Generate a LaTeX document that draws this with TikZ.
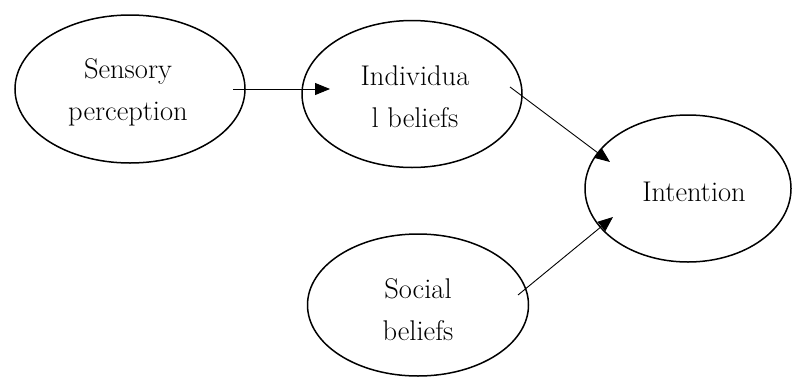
\documentclass[tikz,border=0pt]{standalone}
\usetikzlibrary{shapes.geometric,arrows.meta,calc}
\begin{document}
\begin{tikzpicture}[x=1pt,y=-1pt,
  oval/.style={draw=black,line width=1.5pt,ellipse,inner sep=0pt,align=center,
    font=\fontsize{28.5}{42}\selectfont},
  link/.style={draw=black,line width=0.9pt,-{Triangle[length=15pt,width=12pt]}}]
\useasboundingbox (0,0) rectangle (792,378);
\node[oval,minimum width=230pt,minimum height=148pt] (sens) at (130,89) {};
\node[oval,minimum width=220pt,minimum height=147pt] (indiv) at (412,94) {};
\node[oval,minimum width=206pt,minimum height=147pt] (intent) at (688,188.5) {};
\node[oval,minimum width=221pt,minimum height=142pt] (soc) at (418,305) {};
\node[font=\fontsize{28.5}{42}\selectfont,align=center,inner sep=0pt] (senst) at ($(sens.center)+(-2,3)$) {Sensory\\perception};
\node[font=\fontsize{28.5}{42}\selectfont,align=center,inner sep=0pt] (indivt) at ($(indiv.center)+(3,3)$) {Individua\\l beliefs};
\node[font=\fontsize{28.5}{42}\selectfont,align=center,inner sep=0pt] (intentt) at ($(intent.center)+(6,3)$) {Intention};
\node[font=\fontsize{28.5}{42}\selectfont,align=center,inner sep=0pt] (soct) at ($(soc.center)+(0,5)$) {Social\\beliefs};
\coordinate (a1) at ($(sens.center)+(103,0)$);
\coordinate (a2) at ($(indiv.center)+(-82,-5)$);
\coordinate (b1) at ($(indiv.center)+(98,-7)$);
\coordinate (b2) at ($(intent.center)+(-78,-26.5)$);
\coordinate (c1) at ($(soc.center)+(100,-10)$);
\coordinate (c2) at ($(intent.center)+(-75,28.5)$);
\draw[link] (a1) -- (a2);
\draw[link] (b1) -- (b2);
\draw[link] (c1) -- (c2);
\end{tikzpicture}
\end{document}
